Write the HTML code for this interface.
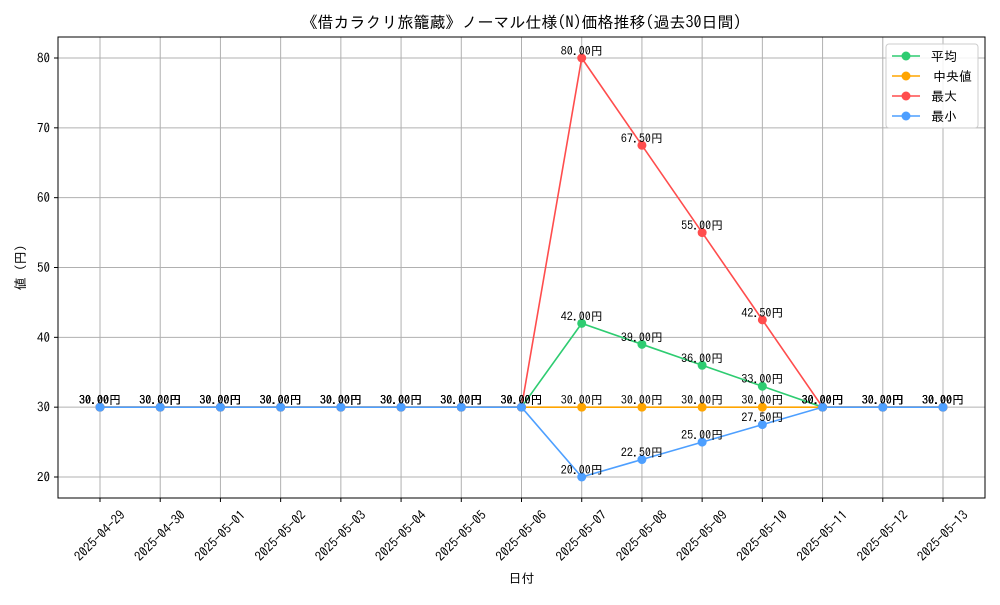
<!DOCTYPE html>
<html><head><meta charset="utf-8"><style>
body{margin:0;background:#fff}
svg{font-family:"IPAGothic","Noto Sans CJK JP",sans-serif}
</style></head><body>
<svg id="c" width="1000" height="600" viewBox="0 0 1000 600"></svg>
<script>
const dates=["2025-04-29","2025-04-30","2025-05-01","2025-05-02","2025-05-03","2025-05-04","2025-05-05","2025-05-06","2025-05-07","2025-05-08","2025-05-09","2025-05-10","2025-05-11","2025-05-12","2025-05-13"];
const meanVals=[30,30,30,30,30,30,30,30,42,39,36,33,30,30,30];
const medianVals=[30,30,30,30,30,30,30,30,30,30,30,30,30,30,30];
const maxVals=[30,30,30,30,30,30,30,30,80,67.5,55,42.5,30,30,30];
const minVals=[30,30,30,30,30,30,30,30,20,22.5,25,27.5,30,30,30];
const yTicks=[20,30,40,50,60,70,80];
const seriesNames=["平均","中央値","最大","最小"];
const L=58,R=985,T=37,B=498;
const x=i=>100+i*(943-100)/14;
const y=v=>477-(v-20)*(477-58)/60;
const svg=document.getElementById('c');
const NS="http://www.w3.org/2000/svg";
function mk(t,a,p){const e=document.createElementNS(NS,t);for(const k in a)e.setAttribute(k,a[k]);(p||svg).appendChild(e);return e;}
let e;
e=mk('text',{x:(L+R)/2,y:28,'text-anchor':'middle','font-size':16});e.textContent="《借カラクリ旅籠蔵》ノーマル仕様(N)価格推移(過去30日間)";


dates.forEach((d,i)=>{
 e=mk('line',{x1:x(i),x2:x(i),y1:T,y2:B,stroke:'#b0b0b0','stroke-width':1});
 
 
 e=mk('line',{x1:x(i),x2:x(i),y1:B,y2:B+4,stroke:'#000'});
 
 
 const tx=x(i),ty=536;
 e=mk('text',{x:tx,y:ty+4,'text-anchor':'middle','font-size':13,transform:`rotate(-45 ${tx} ${ty})`});e.textContent=d;
 
 
});
yTicks.forEach(v=>{
 e=mk('line',{x1:L,x2:R,y1:y(v),y2:y(v),stroke:'#b0b0b0','stroke-width':1});
 
 
 e=mk('line',{x1:L-4,x2:L,y1:y(v),y2:y(v),stroke:'#000'});
 
 
 e=mk('text',{x:L-8,y:y(v)+4.5,'text-anchor':'end','font-size':13});e.textContent=v;
 
 
});
e=mk('rect',{x:L,y:T,width:R-L,height:B-T,fill:'none',stroke:'#000','stroke-width':1});


e=mk('text',{x:(L+R)/2,y:583,'text-anchor':'middle','font-size':13});e.textContent="日付";


e=mk('text',{x:25,y:(T+B)/2,'text-anchor':'middle','font-size':13,transform:`rotate(-90 25 ${(T+B)/2})`});e.textContent="値 (円)";


const series=[[meanVals,'#2ecc71'],[medianVals,'#ffa500'],[maxVals,'#ff4d4d'],[minVals,'#4d9fff']];
series.forEach(([vals,col],si)=>{
 const g=mk('g',{});
 
 
 e=mk('polyline',{points:vals.map((v,i)=>x(i)+','+y(v)).join(' '),fill:'none',stroke:col,'stroke-width':1.6},g);
 
 
 vals.forEach((v,i)=>{
  e=mk('circle',{cx:x(i),cy:y(v),r:4.5,fill:col},g);
  
  
  e=mk('text',{x:x(i),y:y(v)-3,'text-anchor':'middle','font-size':12},g);e.textContent=v.toFixed(2)+"円";
  
  
 });
});
const lg=mk('g',{});


e=mk('rect',{x:886,y:44,width:92,height:84,rx:3,fill:'#fff','fill-opacity':0.85,stroke:'#ccc'},lg);


series.forEach(([v,col],i)=>{
 const yy=56+i*20;
 e=mk('line',{x1:892,x2:920,y1:yy,y2:yy,stroke:col,'stroke-width':1.6},lg);
 
 
 e=mk('circle',{cx:906,cy:yy,r:4.5,fill:col},lg);
 
 
 e=mk('text',{x:i==1?933:931,y:yy+5,'font-size':13},lg);e.textContent=seriesNames[i];
 
 
});
</script>
</body></html>
